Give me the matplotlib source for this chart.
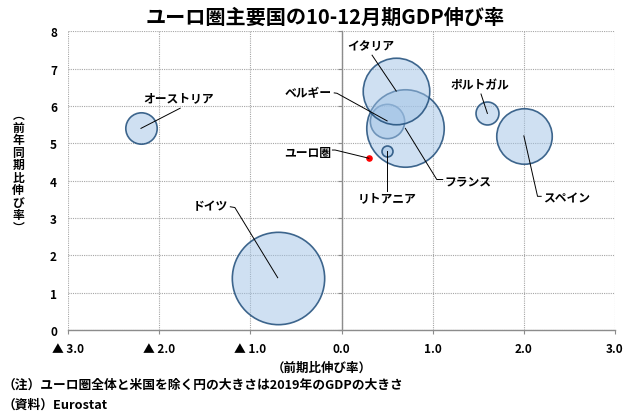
import numpy as np
import matplotlib
matplotlib.use("Agg")
import matplotlib.pyplot as plt

plt.rcParams['font.family'] = ['Noto Sans CJK JP', 'DejaVu Sans']
plt.rcParams['font.weight'] = 'bold'

# data: 前期比 (x), 前年同期比 (y), 2019 GDP (bubble size)
countries = ["ベルギー", "フランス", "イタリア", "ドイツ", "スペイン",
             "オーストリア", "ポルトガル", "リトアニア"]
qoq = [0.5, 0.7, 0.6, -0.7, 2.0, -2.2, 1.6, 0.5]
yoy = [5.6, 5.4, 6.4, 1.4, 5.2, 5.4, 5.8, 4.8]
gdp_2019 = [476.2, 2425.7, 1790.9, 3449.1, 1245.3, 398.5, 213.3, 48.8]

ea_name = "ユーロ圏"
ea_qoq = [0.3]
ea_yoy = [4.6]

xticks = [-3, -2, -1, 0, 1, 2, 3]
xticklabels = ["▲ 3.0", "▲ 2.0", "▲ 1.0", "0.0", "1.0", "2.0", "3.0"]
yticks = [0, 1, 2, 3, 4, 5, 6, 7, 8]

# label placement: (text x, text y, ha, elbow points from the marker)
labels = {
    "オーストリア": (-1.79, 6.21, 'center', [(-1.77, 5.94)]),
    "イタリア": (0.32, 7.61, 'center', [(0.335, 7.36)]),
    "ベルギー": (-0.11, 6.35, 'right', [(-0.05, 6.34), (-0.08, 6.35)]),
    "ポルトガル": (1.52, 6.56, 'center', [(1.53, 6.32)]),
    "リトアニア": (0.5, 3.55, 'center', [(0.5, 3.73)]),
    "フランス": (1.13, 4.0, 'left', [(1.045, 4.03), (1.11, 4.03)]),
    "スペイン": (2.21, 3.53, 'left', [(2.15, 3.58), (2.19, 3.58)]),
    "ドイツ": (-1.25, 3.32, 'right', [(-1.17, 3.28), (-1.22, 3.30)]),
}
ea_label = (-0.11, 4.76, 'right', [(-0.07, 4.82), (-0.1, 4.82)])

fig = plt.figure(figsize=(6.27, 4.14), dpi=100)
ax = fig.add_axes([0.1085, 0.2005, 0.8724, 0.7215])

k = 1.282  # bubble area scale
for i, name in enumerate(countries):
    ax.scatter(qoq[i], yoy[i], s=gdp_2019[i] * k, facecolor=(0.63, 0.765, 0.9, 0.5),
               edgecolor=(0.12, 0.30, 0.48, 0.85), linewidth=1.2, zorder=3 + i * 0.01)
ax.scatter(ea_qoq, ea_yoy, s=14, color='#ff0000', zorder=4)

for i, name in enumerate(countries):
    tx, ty, ha, pts = labels[name]
    xs = [qoq[i]] + [p[0] for p in pts]
    ys = [yoy[i]] + [p[1] for p in pts]
    ax.plot(xs, ys, color='black', lw=0.7, zorder=5)
    ax.text(tx, ty, name, ha=ha, va='center', fontsize=8.5, fontweight='bold', zorder=6)

tx, ty, ha, pts = ea_label
ax.plot([ea_qoq[0]] + [p[0] for p in pts], [ea_yoy[0]] + [p[1] for p in pts],
        color='black', lw=0.7, zorder=5)
ax.text(tx, ty, ea_name, ha=ha, va='center', fontsize=8.5, fontweight='bold', zorder=6)

ax.set_xlim(-3, 3)
ax.set_ylim(0, 8)
ax.set_xticks(xticks)
ax.set_xticklabels(xticklabels)
ax.set_yticks(yticks)
ax.grid(True, linestyle=(0, (1, 1)), color='#a6a6a6', lw=0.8, zorder=0)
ax.set_axisbelow(True)

ax.spines['left'].set_position(('data', 0))
ax.spines['bottom'].set_position(('data', 0))
ax.spines['top'].set_visible(False)
ax.spines['right'].set_visible(False)
for sp in ['left', 'bottom']:
    ax.spines[sp].set_color('#8c8c8c')
    ax.spines[sp].set_linewidth(1.0)
ax.tick_params(axis='y', direction='out', length=3, color='#8c8c8c', labelleft=False)
ax.tick_params(axis='x', direction='out', length=3, color='#8c8c8c', pad=6, labelsize=8.5)
for t in ax.get_xticklabels():
    t.set_fontweight('bold')

sec = ax.secondary_yaxis('left')
sec.spines['left'].set_visible(False)
sec.set_yticks(yticks)
sec.tick_params(length=0, pad=8, labelsize=8.5)
for t in sec.get_yticklabels():
    t.set_fontweight('bold')

fig.text(0.519, 0.958, "ユーロ圏主要国の10-12月期GDP伸び率", ha='center', va='center',
         fontsize=14.5, fontweight='bold')
fig.text(0.513, 0.111, "（前期比伸び率）", ha='center', va='center', fontsize=9, fontweight='bold')

ylab = "︵前年同期比伸び率︶"
fig.text(0.029, 0.585, "\n".join(ylab), ha='center', va='center', fontsize=8.5,
         fontweight='bold', linespacing=0.95)

fig.text(0.004, 0.070, "（注）ユーロ圏全体と米国を除く円の大きさは2019年のGDPの大きさ",
         ha='left', va='center', fontsize=9.2, fontweight='bold')
fig.text(0.004, 0.022, "（資料）Eurostat", ha='left', va='center', fontsize=9.2, fontweight='bold')

fig.savefig("out.png", dpi=100)
